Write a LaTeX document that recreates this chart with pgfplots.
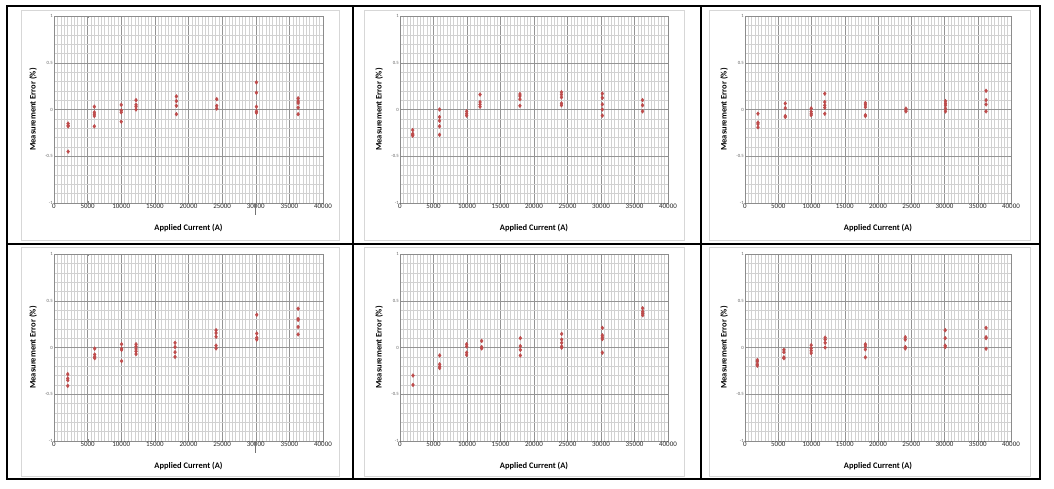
\documentclass[border=0pt]{standalone}
\usepackage{fontspec}
\setmainfont{Carlito}
\usepackage{pgfplots}
\pgfplotsset{compat=1.18}
\definecolor{mk}{RGB}{190,75,75}
\definecolor{frame}{RGB}{215,215,215}
\pgfplotsset{
  panel/.style={
    scale only axis, width=#1, height=187bp,
    xmin=0, xmax=40000, ymin=-1, ymax=1,
    xtick={0,5000,...,40000}, ytick={-1,-0.5,0,0.5,1},
    minor x tick num=9, minor y tick num=4,
    grid=both,
    major grid style={draw=black!42, line width=0.5bp},
    minor grid style={draw=black!18, line width=0.4bp},
    axis line style={draw=black!45},
    major tick length=2bp, minor tick length=0bp,
    tick style={draw=black!45},
    scaled x ticks=false,
    /pgf/number format/assume math mode=true,
    xticklabel style={font=\fontsize{7}{8}\selectfont, text=black!85, /pgf/number format/1000 sep={}, /pgf/number format/fixed, inner sep=1bp},
    yticklabel style={font=\fontsize{4.8}{5}\selectfont, text=black!60, /pgf/number format/fixed, inner sep=1bp},
    xlabel={\textbf{Applied Current (A)}},
    ylabel={\textbf{Measurement Error (\%)}},
    xlabel style={font=\fontsize{8.5}{10}\selectfont, at={(axis description cs:0.5,0)}, anchor=center, yshift=-25bp},
    ylabel style={font=\fontsize{8.5}{10}\selectfont, at={(axis description cs:0,0.5)}, anchor=center, yshift=21bp},
    clip=false,
  },
  pts/.style={only marks, mark=diamond*, mark size=1.9bp, color=mk, mark options={fill=mk, draw=mk}},
}
\begin{document}
\begin{tikzpicture}
\path[use as bounding box, fill=white] (0bp,0bp) rectangle (1054bp,-489bp);
% chart frames
\foreach \xa/\xb in {21/339, 364/684, 709/1030}{
  \draw[frame, line width=0.8bp] (\xa bp,-10bp) rectangle (\xb bp,-240bp);
  \draw[frame, line width=0.8bp] (\xa bp,-247bp) rectangle (\xb bp,-476bp);
}
% Panel 1
\begin{axis}[panel=269bp, at={(54bp,-203bp)}, anchor=south west]
\addplot[pts] coordinates {(2100,-0.15) (2100,-0.17) (2100,-0.18) (2100,-0.45)
 (6000,0.03) (6000,-0.03) (6000,-0.05) (6000,-0.07) (6000,-0.18)
 (10000,0.05) (10000,-0.01) (10000,-0.03) (10000,-0.13)
 (12200,0.10) (12200,0.05) (12200,0.03) (12200,0.00)
 (18200,0.14) (18200,0.09) (18200,0.04) (18200,-0.05)
 (24200,0.11) (24200,0.04) (24200,0.01)
 (30100,0.29) (30100,0.18) (30100,0.03) (30100,-0.02) (30100,-0.035)
 (36300,0.12) (36300,0.09) (36300,0.07) (36300,0.02) (36300,-0.05)};
\draw[black!55, line width=0.7bp] (axis cs:30000,-1) -- ([yshift=-12bp]axis cs:30000,-1);
\end{axis}
% Panel 2
\begin{axis}[panel=268bp, at={(400bp,-203bp)}, anchor=south west]
\addplot[pts] coordinates {(1900,-0.22) (1900,-0.26) (1900,-0.27) (1900,-0.28)
 (5900,0.0) (5900,-0.08) (5900,-0.12) (5900,-0.18) (5900,-0.27)
 (9950,-0.02) (9950,-0.045) (9950,-0.065)
 (11950,0.16) (11950,0.08) (11950,0.055) (11950,0.03)
 (17900,0.165) (17900,0.145) (17900,0.11) (17900,0.04)
 (24100,0.185) (24100,0.16) (24100,0.13) (24100,0.065) (24100,0.045)
 (30200,0.17) (30200,0.125) (30200,0.055) (30200,0.0) (30200,-0.065)
 (36200,0.10) (36200,0.045) (36200,-0.02)};
\end{axis}
% Panel 3
\begin{axis}[panel=266bp, at={(745bp,-203bp)}, anchor=south west]
\addplot[pts] coordinates {(1950,-0.045) (1950,-0.14) (1950,-0.155) (1950,-0.19)
 (6050,0.065) (6050,0.015) (6050,-0.07) (6050,-0.08)
 (9950,0.012) (9950,-0.023) (9950,-0.045) (9950,-0.06)
 (12000,0.17) (12000,0.08) (12000,0.045) (12000,0.02) (12000,-0.045)
 (18100,0.07) (18100,0.05) (18100,0.025) (18100,-0.06) (18100,-0.07)
 (24200,0.01) (24200,-0.005) (24200,-0.02)
 (30150,0.09) (30150,0.065) (30150,0.045) (30150,0.01) (30150,-0.02)
 (36250,0.2) (36250,0.10) (36250,0.055) (36250,-0.02)};
\end{axis}
% Panel 4
\begin{axis}[panel=269bp, at={(54bp,-441bp)}, anchor=south west]
\addplot[pts] coordinates {(2050,-0.285) (2050,-0.33) (2050,-0.35) (2050,-0.41)
 (6050,-0.012) (6050,-0.075) (6050,-0.1) (6050,-0.115)
 (10050,0.035) (10050,-0.012) (10050,-0.025) (10050,-0.145)
 (12200,0.035) (12200,0.012) (12200,-0.015) (12200,-0.04) (12200,-0.07)
 (18000,0.05) (18000,0.005) (18000,-0.05) (18000,-0.1)
 (24100,0.185) (24100,0.155) (24100,0.115) (24100,0.02) (24100,-0.01)
 (30150,0.35) (30150,0.15) (30150,0.105) (30150,0.085)
 (36300,0.415) (36300,0.305) (36300,0.295) (36300,0.22) (36300,0.14)};
\draw[black!55, line width=0.7bp] (axis cs:30000,-1) -- ([yshift=-12bp]axis cs:30000,-1);
\end{axis}
% Panel 5
\begin{axis}[panel=268bp, at={(400bp,-441bp)}, anchor=south west]
\addplot[pts] coordinates {(1940,-0.30) (1940,-0.40)
 (5920,-0.085) (5920,-0.18) (5920,-0.205) (5920,-0.22)
 (9950,0.035) (9950,0.012) (9950,-0.055) (9950,-0.08)
 (12190,0.07) (12190,0.005) (12190,-0.01)
 (17960,0.10) (17960,0.015) (17960,-0.025) (17960,-0.085)
 (24130,0.145) (24130,0.085) (24130,0.05) (24130,0.012) (24130,-0.002)
 (30200,0.21) (30200,0.13) (30200,0.11) (30200,0.09) (30200,-0.055)
 (36220,0.42) (36220,0.385) (36220,0.365) (36220,0.345)};
\end{axis}
% Panel 6
\begin{axis}[panel=266bp, at={(745bp,-441bp)}, anchor=south west]
\addplot[pts] coordinates {(1850,-0.135) (1850,-0.15) (1850,-0.18) (1850,-0.195)
 (5850,-0.025) (5850,-0.05) (5850,-0.105) (5850,-0.115)
 (9950,0.025) (9950,-0.01) (9950,-0.035) (9950,-0.06)
 (12050,0.105) (12050,0.085) (12050,0.05) (12050,0.0)
 (18100,0.035) (18100,0.015) (18100,-0.02) (18100,-0.105)
 (24100,0.11) (24100,0.085) (24100,0.005) (24100,-0.01)
 (30100,0.185) (30100,0.10) (30100,0.02) (30100,0.005)
 (36250,0.21) (36250,0.11) (36250,0.10) (36250,-0.013)};
\end{axis}
% table borders
\draw[black, line width=1.2bp] (7bp,-6bp) rectangle (1040bp,-479bp);
\draw[black, line width=1.2bp] (353bp,-6bp) -- (353bp,-479bp);
\draw[black, line width=1.2bp] (701bp,-6bp) -- (701bp,-479bp);
\draw[black, line width=1.2bp] (7bp,-244bp) -- (1040bp,-244bp);
\end{tikzpicture}
\end{document}
